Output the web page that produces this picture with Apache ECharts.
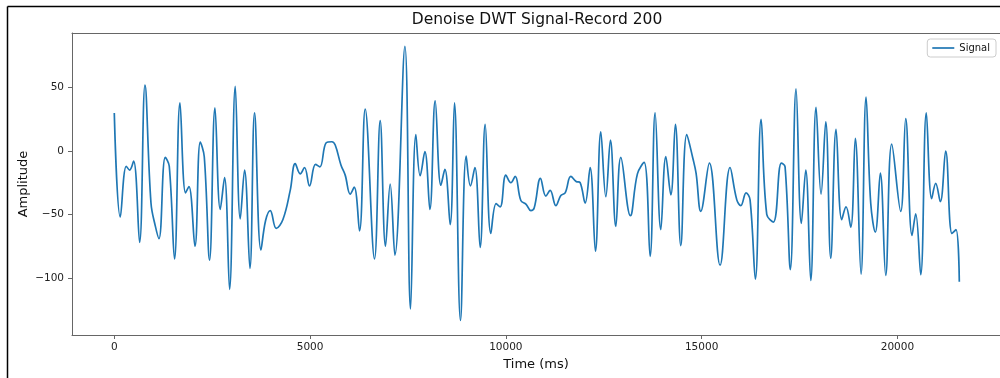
<!DOCTYPE html>
<html>
<head>
<meta charset="utf-8">
<title>Denoise DWT Signal-Record 200</title>
<script src="https://cdn.jsdelivr.net/npm/echarts@6/dist/echarts.min.js"></script>
<style>
  html, body { margin: 0; padding: 0; background: #fff; }
  #chart { width: 1000px; height: 378px; }
</style>
</head>
<body>
<div id="chart"></div>
<script>
// values
const timeMs = [
  0, 153, 306, 391, 493, 646, 784, 937, 1047, 1141, 1302, 1404, 1539, 1677, 1820, 1907,
  2060, 2196, 2298, 2433, 2571, 2706, 2816, 2944, 3089, 3217, 3327, 3464, 3582, 3745,
  3863, 3983, 4136, 4307, 4493, 4621, 4749, 4858, 4986, 5139, 5250, 5412, 5558, 5642,
  5788, 5897, 6025, 6127, 6263, 6408, 6646, 6791, 6927, 7046, 7166, 7422, 7565, 7702,
  7812, 7932, 8060, 8195, 8341, 8443, 8578, 8688, 8841, 8987, 9096, 9209, 9344, 9472,
  9617, 9752, 9855, 10000, 10128, 10238, 10383, 10518, 10638, 10723, 10884, 11021,
  11131, 11277, 11404, 11514, 11660, 11795, 11897, 12025, 12152, 12288, 12425, 12553,
  12671, 12808, 12936, 13181, 13360, 13531, 13684, 13812, 13957, 14085, 14213, 14330,
  14468, 14621, 14774, 14858, 14978, 15198, 15471, 15726, 15898, 16000, 16135, 16237,
  16373, 16518, 16663, 16832, 17036, 17131, 17266, 17411, 17547, 17659, 17787, 17922,
  18050, 18170, 18297, 18433, 18578, 18688, 18808, 18925, 19071, 19199, 19318, 19436,
  19564, 19701, 19855, 20084, 20212, 20373, 20467, 20595, 20738, 20876, 20978, 21096,
  21233, 21394, 21496, 21581
];
const amplitude = [
  30, -52, -12, -15, -8, -72, 52, -41, -59, -69, -5, -12, -85, 38, -33, -28,
  -75, 7, -4.5, -86, 34, -46, -21, -109, 51, -53.5, -15, -92.5, 30, -78,
  -55, -47, -61, -54, -31, -10, -18, -13, -27.5, -10.5, -12.5, 6.5, 7.3, 4.7,
  -11, -19, -34, -28.5, -63, 33, -85, 24, -75, -26, -82, 82.5, -124.5, 13,
  -19.5, -0.5, -46, 39.5, -27, -14.5, -58, 38, -133.5, -4, -27.5, -13, -76, 21,
  -65, -41.5, -44, -19, -25, -20, -39, -42, -47, -45, -21.5, -35.5,
  -31, -43, -35, -33, -20, -24, -25, -41, -13, -79, 15, -36,
  8.5, -59.5, -5, -51, -18, -9, -83, 30, -62, -4.5, -34.5, 21,
  -74.5, 13, -5.5, -17.5, -47.5, -9.5, -90, -13, -38.5, -43, -33, -38.5,
  -101, 25, -50, -56, -9.5, -12.5, -93.5, 49, -57, -15, -102, 34.5,
  -34, 23, -84.5, 17, -54, -44, -60, 10, -97, 42.5, -41, -64,
  -17.5, -98, 5.5, -47.5, 25.5, -66.5, -49.5, -97.5, 30, -37.5, -25.5, -40,
  0, -65, -62, -103
];
const xTicks = [0, 5000, 10000, 15000, 20000];
const yTicks = [-100, -50, 0, 50];

const signal = timeMs.map((t, i) => [t, amplitude[i]]);

const chart = echarts.init(document.getElementById('chart'));
const font = 'DejaVu Sans';
const spine = '#666';
// matplotlib style: no thousands separator, unicode minus
const tickText = v => String(v).replace('-', '\u2212');

const option = {
  animation: false,
  backgroundColor: '#fff',
  title: {
    text: 'Denoise DWT Signal-Record 200',
    left: 537,
    textAlign: 'center',
    top: 12,
    padding: 0,
    textStyle: { fontFamily: font, fontSize: 15.5, fontWeight: 'normal', color: '#111' }
  },
  legend: {
    right: 4,
    top: 39,
    padding: [4, 6, 4, 5],
    borderColor: '#ccc',
    borderWidth: 1,
    borderRadius: 3,
    backgroundColor: '#fff',
    icon: 'rect',
    itemWidth: 22,
    itemHeight: 1.7,
    itemGap: 6,
    textStyle: { fontFamily: font, fontSize: 10, color: '#111' },
    data: ['Signal']
  },
  grid: { left: 72, right: 0, top: 33, bottom: 43 },
  xAxis: [
    {
      type: 'value',
      min: -1080,
      max: 22620,
      name: 'Time (ms)',
      nameLocation: 'middle',
      nameGap: 23,
      nameMoveOverlap: false,
      nameTextStyle: { fontFamily: font, fontSize: 13, color: '#111' },
      splitLine: { show: false },
      axisLine: { show: true, onZero: false, lineStyle: { color: spine, width: 1 } },
      axisTick: { show: true, length: 4, lineStyle: { color: spine }, customValues: xTicks },
      axisLabel: {
        fontFamily: font, fontSize: 10.5, color: '#222', margin: 7,
        customValues: xTicks, formatter: tickText
      }
    },
    {
      type: 'value',
      position: 'top',
      min: -1080,
      max: 22620,
      splitLine: { show: false },
      axisLine: { show: true, onZero: false, lineStyle: { color: spine, width: 1 } },
      axisTick: { show: false },
      axisLabel: { show: false }
    }
  ],
  yAxis: {
    type: 'value',
    min: -145,
    max: 93,
    name: 'Amplitude',
    nameLocation: 'middle',
    nameGap: 42,
    nameMoveOverlap: false,
    nameTextStyle: { fontFamily: font, fontSize: 13, color: '#111' },
    splitLine: { show: false },
    axisLine: { show: true, onZero: false, lineStyle: { color: spine, width: 1 } },
    axisTick: { show: true, length: 4, lineStyle: { color: spine }, customValues: yTicks },
    axisLabel: {
      fontFamily: font, fontSize: 10.5, color: '#222', margin: 8,
      customValues: yTicks, formatter: tickText
    }
  },
  series: [
    {
      name: 'Signal',
      type: 'line',
      xAxisIndex: 0,
      data: signal,
      showSymbol: false,
      smooth: 0.4,
      lineStyle: { color: '#1f77b4', width: 1.7 },
      itemStyle: { color: '#1f77b4' }
    }
  ],
  graphic: [
    {
      type: 'line',
      shape: { x1: 7.5, y1: 6.5, x2: 1000, y2: 6.5 },
      style: { stroke: '#000', lineWidth: 1.5 }
    },
    {
      type: 'line',
      shape: { x1: 7.5, y1: 6.5, x2: 7.5, y2: 378 },
      style: { stroke: '#000', lineWidth: 1.5 }
    }
  ]
};

chart.setOption(option);
</script>
</body>
</html>
